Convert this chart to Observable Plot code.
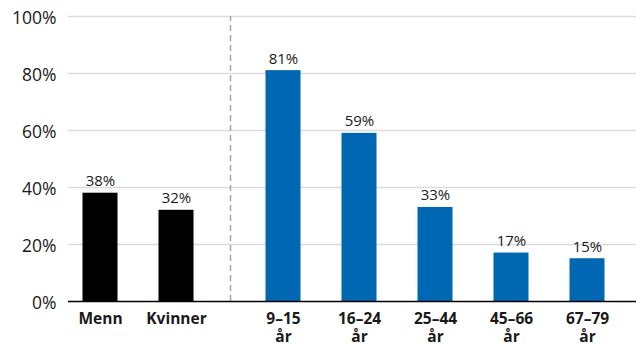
<!DOCTYPE html>
<html>
<head>
<meta charset="utf-8">
<script src="https://cdn.jsdelivr.net/npm/d3@7"></script>
<script src="https://cdn.jsdelivr.net/npm/@observablehq/plot@0.6"></script>
<style>
  html, body { margin: 0; padding: 0; background: #fff; }
  #chart svg { display: block; font-family: "Open Sans", sans-serif; }
</style>
</head>
<body>
<div id="chart"></div>
<script>
// Data
const categories = ["Menn", "Kvinner", "9–15 år", "16–24 år", "25–44 år", "45–66 år", "67–79 år"];
const values = [38, 32, 81, 59, 33, 17, 15];
const groups = ["kjønn", "kjønn", "alder", "alder", "alder", "alder", "alder"];
const yTicks = [0, 20, 40, 60, 80, 100];

const data = categories.map((c, i) => ({ cat: c, value: values[i], group: groups[i] }));
const sexData = data.filter(d => d.group === "kjønn");
const ageData = data.filter(d => d.group === "alder");

const BLACK = "#000000";
const BLUE = "#0067b3";
const shiftL = -15.5, shiftR = 15.5;

const label = d => d.cat.replace(" år", "\når");

function groupMarks(arr, fill, dx) {
  return [
    Plot.barY(arr, { x: "cat", y: "value", fill, dx }),
    Plot.text(arr, { x: "cat", y: "value", text: d => d.value + "%", dx, dy: -7, lineAnchor: "bottom", fontSize: 15, fill: "#1a1a1a" }),
    Plot.text(arr, { x: "cat", y: 0, text: label, dx, dy: 10, lineAnchor: "top", fontSize: 15.5, fontWeight: "bold", fill: "#1a1a1a", lineHeight: 1.16 })
  ];
}

const chart = Plot.plot({
  width: 636,
  height: 347,
  marginLeft: 68,
  marginRight: 0,
  marginTop: 16,
  marginBottom: 46,
  style: { fontFamily: "'Open Sans', sans-serif", background: "#fff" },
  x: { domain: categories, range: [97.5, 588.5], paddingInner: 0.54, paddingOuter: 0, axis: null },
  y: { domain: [0, 100], ticks: yTicks, label: null },
  marks: [
    Plot.ruleY(yTicks.filter(d => d > 0), { stroke: "#dcdcdc", strokeWidth: 1.5 }),
    Plot.axisY(yTicks, { tickSize: 0, tickPadding: 12, tickFormat: d => d + "%", fontSize: 17.5, dy: 2, fill: "#1a1a1a", label: null }),
    Plot.ruleX(["Kvinner"], { dx: 38.5, y1: 0, y2: 100, stroke: "#a6a6a6", strokeWidth: 1.5, strokeDasharray: "6,4" }),
    ...groupMarks(sexData, BLACK, shiftL),
    ...groupMarks(ageData, BLUE, shiftR),
    Plot.ruleY([0], { stroke: "#000", strokeWidth: 1.5 })
  ]
});

document.getElementById("chart").appendChild(chart);
</script>
</body>
</html>
